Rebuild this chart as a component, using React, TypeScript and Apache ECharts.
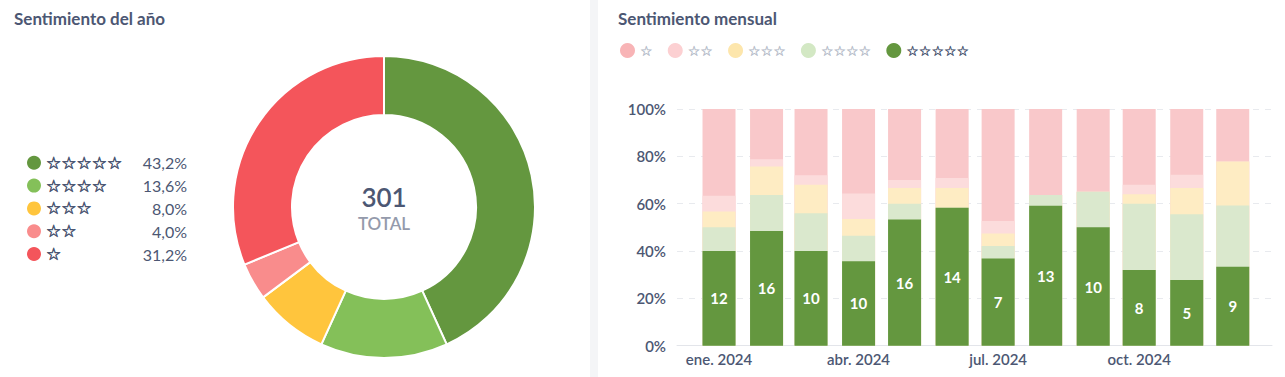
import React, { useEffect, useRef } from 'react';
import * as echarts from 'echarts';

// ---------- data ----------
const months = [
  '2024-01-01', '2024-02-01', '2024-03-01', '2024-04-01', '2024-05-01', '2024-06-01',
  '2024-07-01', '2024-08-01', '2024-09-01', '2024-10-01', '2024-11-01', '2024-12-01',
];
const monthAbbr = ['ene.', 'feb.', 'mar.', 'abr.', 'may.', 'jun.', 'jul.', 'ago.', 'sept.', 'oct.', 'nov.', 'dic.'];
const labelMonths = ['2024-01-01', '2024-04-01', '2024-07-01', '2024-10-01'];

// star categories, 5 stars first
const starNames = ['☆☆☆☆☆', '☆☆☆☆', '☆☆☆', '☆☆', '☆'];
const fiveStar = [12, 16, 10, 10, 16, 14, 7, 13, 10, 8, 5, 9];
const fourStar = [3, 5, 4, 3, 2, 0, 1, 1, 3, 7, 5, 7];
const threeStar = [2, 4, 3, 2, 2, 2, 1, 0, 0, 1, 2, 5];
const twoStar = [2, 1, 1, 3, 1, 1, 1, 0, 0, 1, 1, 0];
const oneStar = [11, 7, 7, 10, 9, 7, 9, 8, 7, 8, 5, 6];

// ---------- styles ----------
const pieColors = ['#64973f', '#84c059', '#ffc53d', '#f98c8c', '#f4555b'];
const barColors = ['#64973f', '#dae8cd', '#feecc3', '#fcdcdc', '#f9c8ca'];
const legendIconColors = ['#64973f', '#d3e8c4', '#fde6ac', '#fcd0d2', '#f8b4b6'];
const legendTextColors = ['#4c5773', '#b9bfcc', '#b9bfcc', '#b9bfcc', '#b9bfcc'];
const TEXT = '#4c5773';
const FONT = 'Lato, "Noto Sans", sans-serif';
const STARFONT = '"DejaVu Sans", sans-serif';

const toTs = (s: string) => {
  const [y, m, d] = s.split('-').map(Number);
  return Date.UTC(y, m - 1, d);
};
const DAY = 86400000;

export default function App() {
  const ref = useRef<HTMLDivElement>(null);

  useEffect(() => {
    if (!ref.current) return;
    const chart = echarts.init(ref.current, null, { renderer: 'svg' });

    const seriesCounts = [fiveStar, fourStar, threeStar, twoStar, oneStar];
    const monthTotals = months.map((_, i) => seriesCounts.reduce((s, arr) => s + arr[i], 0));
    const starTotals = seriesCounts.map((arr) => arr.reduce((a, b) => a + b, 0));
    const grand = starTotals.reduce((a, b) => a + b, 0);
    const pctText = (v: number) => ((v / grand) * 100).toFixed(1).replace('.', ',') + '%';

    // cumulative share (5★ at the bottom), drawn as overlapping bars
    const cumulative = seriesCounts.map((_, si) =>
      months.map((__, i) => {
        let s = 0;
        for (let k = 0; k <= si; k++) s += seriesCounts[k][i];
        return (s / monthTotals[i]) * 100;
      })
    );

    const xMin = toTs(months[0]) - 27.4 * DAY;
    const xMax = toTs(months[months.length - 1]) + 25.6 * DAY;

    // draw top-most segment first so lower segments paint over it
    const barSeries = [4, 3, 2, 1, 0].map((si) => ({
      type: 'bar',
      name: starNames[si],
      xAxisIndex: 0,
      yAxisIndex: 0,
      barWidth: 33,
      barGap: '-100%',
      itemStyle: { color: barColors[si] },
      label:
        si === 0
          ? {
              show: true,
              position: 'inside',
              color: '#fff',
              fontSize: 15,
              fontWeight: 'bold',
              fontFamily: FONT,
              formatter: (p: any) => String(fiveStar[p.dataIndex]),
            }
          : { show: false },
      data: months.map((m, i) => [toTs(m), cumulative[si][i]]),
    }));

    chart.setOption({
      animation: false,
      title: [
        {
          text: 'Sentimiento del año',
          left: 14,
          top: 10,
          padding: 0,
          textStyle: { color: TEXT, fontSize: 17, fontWeight: 'bold', fontFamily: FONT },
        },
        {
          text: 'Sentimiento mensual',
          left: 618,
          top: 10,
          padding: 0,
          textStyle: { color: TEXT, fontSize: 17, fontWeight: 'bold', fontFamily: FONT },
        },
      ],
      legend: [
        {
          orient: 'vertical',
          left: 27,
          top: 154,
          padding: 0,
          icon: 'circle',
          itemWidth: 14,
          itemHeight: 14,
          itemGap: 5.2,
          selectedMode: false,
          data: starNames.map((n, i) => ({ name: n, itemStyle: { color: pieColors[i] } })),
          formatter: (name: string) => {
            const idx = starNames.indexOf(name);
            return `{s|${name}}{p|${pctText(starTotals[idx])}}`;
          },
          textStyle: {
            rich: {
              s: {
                width: 94,
                fontSize: 17,
                color: TEXT,
                fontFamily: STARFONT,
                fontWeight: 'bold',
                textBorderColor: TEXT,
                textBorderWidth: 0.6,
              },
              p: { width: 47, align: 'right', fontSize: 16, color: TEXT, fontFamily: FONT },
            },
          },
        },
        {
          orient: 'horizontal',
          left: 620,
          top: 43,
          padding: 0,
          icon: 'circle',
          itemWidth: 15,
          itemHeight: 15,
          itemGap: 15,
          selectedMode: false,
          data: [4, 3, 2, 1, 0].map((i) => ({
            name: starNames[i],
            itemStyle: { color: legendIconColors[i] },
            textStyle: {
              color: legendTextColors[i],
              fontSize: 14,
              fontFamily: STARFONT,
              textBorderColor: legendTextColors[i],
              textBorderWidth: 0.4,
            },
          })),
        },
      ],
      graphic: [
        { type: 'rect', shape: { x: 590, y: 0, width: 8, height: 377 }, style: { fill: '#f4f5f7' }, z: -1 },
        {
          type: 'text',
          x: 384,
          y: 197,
          style: {
            text: String(grand),
            fill: TEXT,
            font: `600 26px ${FONT}`,
            textAlign: 'center',
            textVerticalAlign: 'middle',
          },
        },
        {
          type: 'text',
          x: 384,
          y: 223,
          style: {
            text: 'TOTAL',
            fill: '#949aab',
            font: `600 17px ${FONT}`,
            textAlign: 'center',
            textVerticalAlign: 'middle',
          },
        },
      ],
      grid: { left: 677, right: 13, top: 109, bottom: 31.3, containLabel: false },
      xAxis: {
        type: 'value',
        min: xMin,
        max: xMax,
        axisLine: { show: true, lineStyle: { color: '#e3e5ea', width: 1 } },
        axisTick: { show: false },
        splitLine: { show: false },
        axisLabel: {
          customValues: labelMonths.map(toTs),
          formatter: (v: number) => {
            const d = new Date(v);
            return `${monthAbbr[d.getUTCMonth()]} ${d.getUTCFullYear()}`;
          },
          color: TEXT,
          fontSize: 15,
          fontWeight: 600,
          fontFamily: FONT,
          margin: 6,
          hideOverlap: false,
        },
      },
      yAxis: {
        type: 'value',
        min: 0,
        max: 100,
        interval: 20,
        axisLine: { show: false },
        axisTick: { show: false },
        splitLine: { show: true, lineStyle: { color: '#e8eaee', type: [6, 6] } },
        axisLabel: {
          formatter: '{value}%',
          color: TEXT,
          fontSize: 15,
          fontWeight: 600,
          fontFamily: FONT,
          margin: 11,
        },
      },
      series: [
        {
          type: 'pie',
          name: 'Sentimiento del año',
          center: [384, 207],
          radius: [92, 151],
          startAngle: 90,
          clockwise: true,
          label: { show: false },
          labelLine: { show: false },
          itemStyle: { borderColor: '#fff', borderWidth: 2 },
          data: starNames.map((n, i) => ({ name: n, value: starTotals[i], itemStyle: { color: pieColors[i] } })),
        },
        ...barSeries,
      ],
    } as any);

    return () => chart.dispose();
  }, []);

  return (
    <div
      ref={ref}
      style={{ position: 'fixed', left: 0, top: 0, width: 1285, height: 377, background: '#fff' }}
    />
  );
}
